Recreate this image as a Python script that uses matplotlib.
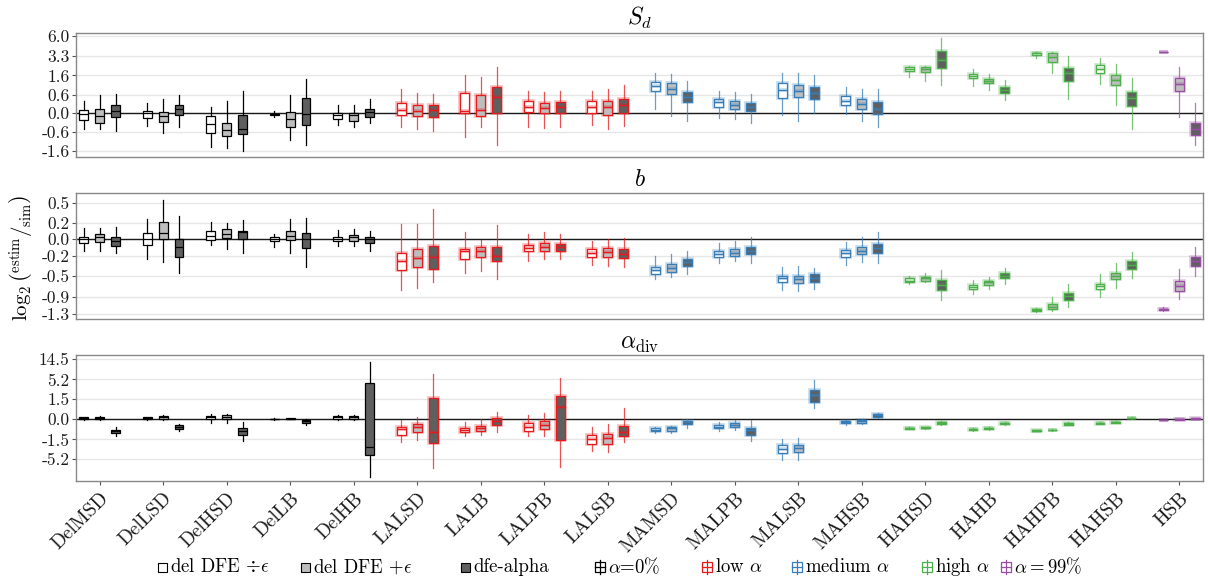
import numpy as np
import matplotlib
matplotlib.use("Agg")
import matplotlib.pyplot as plt
from matplotlib import patheffects as pe
from matplotlib.patches import Rectangle
from matplotlib.lines import Line2D

plt.rcParams.update({"font.family": "cmr10", "mathtext.fontset": "cm",
                     "axes.unicode_minus": False,
                     "axes.formatter.use_mathtext": True})

W, H = 1208, 583
SCENARIOS = ["DelMSD", "DelLSD", "DelHSD", "DelLB", "DelHB",
             "LALSD", "LALB", "LALPB", "LALSB",
             "MAMSD", "MALPB", "MALSB", "MAHSB",
             "HAHSD", "HAHB", "HAHPB", "HAHSB", "HSB"]
GROUP = ["zero"] * 5 + ["low"] * 4 + ["medium"] * 4 + ["high"] * 4 + ["full"]
GROUP_COLOURS = {"zero": "#000000", "low": "#E41A1C", "medium": "#377EB8",
                 "high": "#4DAF4A", "full": "#984EA3"}
FILLS = ["#ffffff", "#bebebe", "#5f5f5f"]

# box stats per scenario: (whisker low, q1, median, q3, whisker high)
sd_white = [(-0.48, -0.18, -0.02, 0.09, 0.37), (-0.38, -0.13, 0.0, 0.05, 0.29),
            (-1.36, -0.63, -0.31, -0.07, 0.16), (-0.1, -0.05, -0.03, -0.01, 0.05),
            (-0.35, -0.15, -0.04, 0.02, 0.22), (-0.4, -0.05, 0.09, 0.31, 0.83),
            (-0.8, 0.015, 0.05, 0.68, 1.65), (-0.42, 0.03, 0.16, 0.35, 0.77),
            (-0.35, 0.0, 0.16, 0.37, 0.74), (0.105, 0.77, 0.99, 1.2, 1.75),
            (-0.13, 0.16, 0.33, 0.42, 0.74), (-0.05, 0.47, 0.8, 1.13, 1.79),
            (-0.02, 0.22, 0.37, 0.55, 0.96), (1.48, 1.93, 2.08, 2.24, 2.3),
            (0.99, 1.44, 1.57, 1.7, 2.08), (3.04, 3.4, 3.55, 3.62, 3.7),
            (1.1, 1.79, 2.08, 2.36, 3.04), (3.67, 3.67, 3.67, 3.67, 3.67)]
sd_light = [(-0.5, -0.27, -0.07, 0.11, 0.58), (-0.66, -0.25, -0.07, 0.03, 0.42),
            (-1.4, -0.77, -0.52, -0.27, 0.35), (-0.96, -0.4, -0.15, 0.03, 0.6),
            (-0.42, -0.2, -0.05, 0.02, 0.22), (-0.5, -0.07, 0.07, 0.22, 0.68),
            (-0.42, -0.07, 0.1, 0.6, 1.52), (-0.45, 0.015, 0.14, 0.31, 0.71),
            (-0.48, -0.035, 0.16, 0.35, 0.86), (-0.07, 0.63, 0.86, 1.13, 1.7),
            (-0.16, 0.12, 0.24, 0.37, 0.71), (-0.22, 0.52, 0.77, 1.06, 1.79),
            (-0.2, 0.105, 0.26, 0.45, 0.86), (1.28, 1.84, 2.04, 2.24, 2.3),
            (0.8, 1.13, 1.24, 1.36, 1.7), (1.79, 2.65, 3.11, 3.55, 3.7),
            (0.22, 1.03, 1.32, 1.61, 2.47), (-0.09, 0.77, 1.1, 1.44, 2.24)]
sd_dark = [(-0.55, -0.11, 0.05, 0.22, 0.63), (-0.42, -0.05, 0.11, 0.22, 0.58),
           (-1.61, -0.69, -0.5, -0.05, 0.74), (-1.2, -0.35, -0.02, 0.47, 1.36),
           (-0.27, -0.1, 0.03, 0.12, 0.42), (-0.58, -0.1, 0.09, 0.24, 0.63),
           (-1.24, 0.015, 0.5, 0.93, 2.2), (-0.42, 0.015, 0.18, 0.33, 0.77),
           (-0.38, 0.015, 0.22, 0.42, 1.03), (-0.22, 0.33, 0.52, 0.71, 1.24),
           (-0.27, 0.05, 0.18, 0.31, 0.63), (0.015, 0.42, 0.66, 0.93, 1.61),
           (-0.4, -0.02, 0.105, 0.33, 0.83), (1.06, 2.14, 2.84, 3.86, 5.7),
           (0.4, 0.66, 0.8, 0.93, 1.32), (0.42, 1.28, 1.75, 2.14, 3.25),
           (-0.48, 0.2, 0.47, 0.71, 1.44), (-1.2, -0.74, -0.5, -0.29, 0.31)]

b_white = [(-0.136, -0.038, 0.0, 0.029, 0.131), (-0.24, -0.06, 0.0, 0.07, 0.25),
           (-0.07, -0.008, 0.037, 0.094, 0.22), (-0.086, -0.022, 0.0, 0.022, 0.06),
           (-0.078, -0.022, 0.007, 0.029, 0.11), (-0.76, -0.41, -0.28, -0.17, 0.19),
           (-0.45, -0.25, -0.136, -0.11, 0.085), (-0.27, -0.14, -0.1, -0.06, 0.06),
           (-0.33, -0.215, -0.16, -0.12, -0.016), (-0.56, -0.47, -0.41, -0.36, -0.2),
           (-0.31, -0.215, -0.18, -0.14, -0.045), (-0.76, -0.62, -0.55, -0.5, -0.37),
           (-0.33, -0.215, -0.17, -0.127, -0.03), (-0.65, -0.61, -0.59, -0.55, -0.5),
           (-0.84, -0.74, -0.7, -0.66, -0.58), (-1.25, -1.22, -1.2, -1.19, -1.16),
           (-0.9, -0.74, -0.69, -0.64, -0.48), (-1.24, -1.2, -1.19, -1.17, -1.14)]
b_light = [(-0.14, -0.03, 0.022, 0.06, 0.135), (-0.29, 0.0, 0.077, 0.22, 0.56),
           (-0.12, 0.015, 0.06, 0.12, 0.2), (-0.17, -0.008, 0.037, 0.1, 0.25),
           (-0.078, -0.016, 0.022, 0.045, 0.126), (-0.72, -0.36, -0.23, -0.11, 0.19),
           (-0.42, -0.22, -0.136, -0.086, -0.008), (-0.25, -0.136, -0.086, -0.045, 0.085),
           (-0.35, -0.215, -0.15, -0.1, 0.0), (-0.53, -0.44, -0.38, -0.32, -0.18),
           (-0.28, -0.2, -0.16, -0.12, -0.016), (-0.78, -0.63, -0.56, -0.5, -0.35),
           (-0.29, -0.18, -0.136, -0.086, 0.022), (-0.62, -0.59, -0.55, -0.53, -0.46),
           (-0.74, -0.66, -0.62, -0.59, -0.52), (-1.24, -1.19, -1.13, -1.06, -0.9),
           (-0.72, -0.56, -0.5, -0.45, -0.3), (-0.96, -0.78, -0.69, -0.6, -0.4)]
b_dark = [(-0.17, -0.078, -0.022, 0.022, 0.15), (-0.46, -0.215, -0.086, 0.007, 0.3),
          (-0.16, 0.0, 0.085, 0.1, 0.24), (-0.36, -0.1, 0.007, 0.077, 0.27),
          (-0.136, -0.038, 0.0, 0.029, 0.1), (-0.61, -0.4, -0.22, -0.078, 0.4),
          (-0.56, -0.28, -0.2, -0.09, 0.17), (-0.24, -0.136, -0.09, -0.053, 0.06),
          (-0.37, -0.23, -0.18, -0.12, 0.015), (-0.48, -0.35, -0.29, -0.24, -0.14),
          (-0.3, -0.18, -0.136, -0.09, 0.022), (-0.74, -0.62, -0.54, -0.47, -0.38),
          (-0.3, -0.16, -0.1, -0.053, 0.085), (-0.97, -0.76, -0.67, -0.58, -0.41),
          (-0.65, -0.55, -0.5, -0.46, -0.38), (-1.14, -0.97, -0.89, -0.82, -0.64),
          (-0.54, -0.39, -0.33, -0.27, -0.15), (-0.5, -0.35, -0.28, -0.215, -0.086)]

ad_white = [(-0.03, 0.0, 0.06, 0.09, 0.12), (-0.02, 0.02, 0.06, 0.09, 0.12),
            (-0.16, 0.03, 0.09, 0.16, 0.27), (-0.01, 0.0, 0.01, 0.02, 0.04),
            (-0.03, 0.03, 0.09, 0.16, 0.2), (-1.86, -1.05, -0.57, -0.43, -0.03),
            (-1.18, -0.77, -0.62, -0.48, -0.13), (-1.12, -0.71, -0.39, -0.2, 0.23),
            (-3.2, -2.12, -1.45, -1.05, -0.43), (-0.87, -0.71, -0.62, -0.52, -0.43),
            (-0.71, -0.52, -0.39, -0.27, -0.13), (-5.5, -3.6, -2.84, -2.3, -1.45),
            (-0.31, -0.2, -0.13, -0.06, -0.03), (-0.58, -0.54, -0.5, -0.46, -0.42),
            (-0.67, -0.61, -0.57, -0.53, -0.48), (-0.73, -0.7, -0.67, -0.65, -0.62),
            (-0.26, -0.22, -0.2, -0.18, -0.15), (-0.05, -0.04, -0.03, -0.02, -0.01)]
ad_light = [(-0.03, 0.02, 0.07, 0.1, 0.15), (-0.03, 0.0, 0.09, 0.16, 0.2),
            (-0.16, 0.0, 0.09, 0.2, 0.27), (0.0, 0.01, 0.03, 0.05, 0.08),
            (-0.03, 0.03, 0.09, 0.16, 0.2), (-1.53, -0.82, -0.39, -0.23, 0.12),
            (-1.05, -0.71, -0.52, -0.35, 0.0), (-1.18, -0.57, -0.27, -0.09, 0.31),
            (-3.5, -2.12, -1.31, -0.93, -0.23), (-0.87, -0.67, -0.52, -0.43, -0.35),
            (-0.62, -0.43, -0.31, -0.2, -0.03), (-5.5, -3.5, -2.74, -2.2, -1.39),
            (-0.23, -0.16, -0.09, -0.03, 0.03), (-0.56, -0.52, -0.48, -0.45, -0.41),
            (-0.6, -0.56, -0.52, -0.49, -0.45), (-0.68, -0.65, -0.62, -0.6, -0.57),
            (-0.19, -0.16, -0.14, -0.12, -0.1), (-0.02, -0.01, 0.0, 0.01, 0.02)]
ad_dark = [(-1.18, -0.87, -0.71, -0.62, -0.39), (-0.71, -0.57, -0.43, -0.31, -0.23),
           (-1.68, -1.0, -0.67, -0.48, -0.13), (-0.31, -0.2, -0.09, -0.03, 0.03),
           (-13.2, -4.0, -2.5, 4.2, 12.8), (-8.3, -1.93, -0.82, 1.68, 6.9),
           (-0.82, -0.31, -0.06, 0.06, 0.39), (-7.65, -1.53, 0.76, 1.93, 5.6),
           (-1.86, -1.12, -0.77, -0.35, 0.66), (-0.48, -0.23, -0.13, -0.06, 0.03),
           (-1.68, -1.05, -0.62, -0.48, -0.03), (0.71, 1.24, 2.0, 2.84, 5.0),
           (0.06, 0.12, 0.2, 0.27, 0.35), (-0.3, -0.24, -0.2, -0.15, -0.1),
           (-0.3, -0.24, -0.2, -0.16, -0.12), (-0.32, -0.27, -0.23, -0.2, -0.15),
           (0.02, 0.04, 0.06, 0.08, 0.09), (0.01, 0.02, 0.03, 0.04, 0.05)]

sd_ticks = [6.0, 3.3, 1.6, 0.6, 0.0, -0.6, -1.6]
b_ticks = [0.5, 0.2, 0.0, -0.2, -0.5, -0.9, -1.3]
ad_ticks = [14.5, 5.2, 1.5, 0.0, -1.5, -5.2]


def fwd(y):
    return np.sign(y) * np.log1p(np.abs(y))


def inv(y):
    return np.sign(y) * np.expm1(np.abs(y))


fig = plt.figure(figsize=(W / 100, H / 100), dpi=100)
panels = [
    ((32.7, 156.7), r"$S_d$", 18, (sd_white, sd_light, sd_dark), sd_ticks, (-1.99, 6.65)),
    ((193.3, 318.7), r"$b$", 180, (b_white, b_light, b_dark), b_ticks, (-1.43, 0.673)),
    ((354.7, 481.0), r"$\alpha_{\rm div}$", 344, (ad_white, ad_light, ad_dark), ad_ticks, (-15.7, 18.1)),
]
OFFSETS = [-0.25, 0.0, 0.25]
axes = []
for (top, bot), title, ty, series, ticks, ylim in panels:
    ax = fig.add_axes([76 / W, 1 - bot / H, 1127 / W, (bot - top) / H])
    ax.set_yscale("function", functions=(fwd, inv))
    ax.set_ylim(*ylim)
    ax.set_xlim(0.628, len(SCENARIOS) + 0.372)
    ax.set_axisbelow(True)
    ax.yaxis.grid(True, color="#e6e6e6", lw=1.0)
    ax.axhline(0, color="#1a1a1a", lw=1.0, zorder=1.5)
    for i in range(len(SCENARIOS)):
        col = GROUP_COLOURS[GROUP[i]]
        for j, data in enumerate(series):
            lo, q1, med, q3, hi = data[i]
            st = [dict(whislo=lo, q1=q1, med=med, q3=q3, whishi=hi, fliers=[])]
            walpha = 1.0 if GROUP[i] == "zero" else 0.75
            bp = ax.bxp(st, positions=[i + 1 + OFFSETS[j]], widths=0.14,
                        patch_artist=True, showcaps=False, showfliers=False,
                        manage_ticks=False,
                        boxprops=dict(facecolor=FILLS[j], edgecolor=col, linewidth=0.9),
                        medianprops=dict(color=col, linewidth=0.9),
                        whiskerprops=dict(color=col, linewidth=0.9, alpha=walpha))
            if GROUP[i] != "zero":
                halo = [pe.Stroke(linewidth=2.6, foreground=col, alpha=0.3), pe.Normal()]
                for art in bp["boxes"] + bp["medians"]:
                    art.set_path_effects(halo)
    ax.set_yticks(ticks)
    ax.set_yticklabels([f"{t:.1f}" for t in ticks])
    ax.yaxis.set_minor_locator(matplotlib.ticker.NullLocator())
    ax.tick_params(axis="y", length=3, color="#555555", labelsize=12.5,
                   labelcolor="#1a1a1a", pad=1.5)
    for s in ax.spines.values():
        s.set_color("#888888")
        s.set_linewidth(1.0)
    fig.text(639.5 / W, 1 - ty / H, title, ha="center", va="center", fontsize=17)
    axes.append(ax)

for ax in axes[:-1]:
    ax.set_xticks([])
axes[-1].set_xticks(np.arange(1, len(SCENARIOS) + 1))
axes[-1].set_xticklabels(SCENARIOS, rotation=45, ha="right", va="top",
                         rotation_mode="anchor")
axes[-1].tick_params(axis="x", length=3, color="#555555", labelsize=14,
                     labelcolor="#1a1a1a", pad=3)

fig.text(22 / W, 1 - 258 / H, r"$\log_2\left(^{\rm estim}/_{\rm sim}\right)$",
         rotation=90, ha="center", va="center", fontsize=15)

# legend drawn by hand along the bottom
ly = 1 - 567 / H
fill_items = [(162, FILLS[0], r"del DFE $\div\epsilon$"),
              (305, FILLS[1], r"del DFE $+\epsilon$"),
              (465, FILLS[2], "dfe-alpha")]
for x, fc, lab in fill_items:
    fig.add_artist(Rectangle(((x - 4.5) / W, ly - 4.5 / H), 9 / W, 9 / H,
                             facecolor=fc, edgecolor="black", lw=0.8,
                             transform=fig.transFigure))
    fig.text((x + 8) / W, ly, lab, ha="left", va="center", fontsize=13.5)
group_items = [(600, "zero", r"$\alpha$=0%"), (707, "low", r"low $\alpha$"),
               (797, "medium", r"medium $\alpha$"), (927, "high", r"high $\alpha$"),
               (1006, "full", r"$\alpha = 99\%$")]
for x, g, lab in group_items:
    col = GROUP_COLOURS[g]
    fig.add_artist(Rectangle(((x - 5) / W, ly - 5 / H), 10 / W, 10 / H,
                             facecolor="white", edgecolor=col, lw=0.9,
                             transform=fig.transFigure))
    fig.add_artist(Line2D([(x - 5) / W, (x + 5) / W], [ly, ly], color=col, lw=0.9,
                          transform=fig.transFigure))
    fig.add_artist(Line2D([x / W, x / W], [ly - 7 / H, ly + 7 / H], color=col, lw=0.9,
                          transform=fig.transFigure))
    fig.text((x + 8) / W, ly, lab, ha="left", va="center", fontsize=13.5)

fig.savefig("out.png", dpi=100)
